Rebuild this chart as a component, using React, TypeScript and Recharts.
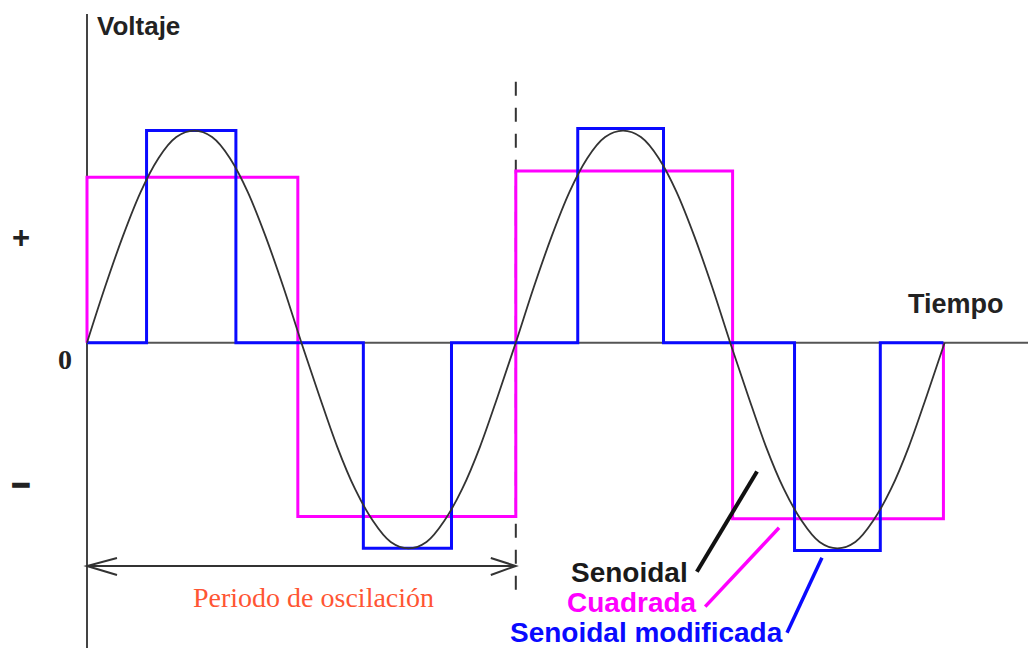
import { ComposedChart, Line, XAxis, YAxis, ReferenceLine } from "recharts"

// x in degrees of the wave (one period = 360), y in relative voltage
const senoidalX = [
  0, 15, 30, 45, 60, 75, 90, 105, 120, 135, 150, 165, 180, 195, 210, 225, 240, 255, 270, 285, 300, 315, 330, 345, 360,
  375, 390, 405, 420, 435, 450, 465, 480, 495, 510, 525, 540, 555, 570, 585, 600, 615, 630, 645, 660, 675, 690, 705, 720,
]
const senoidalY = [
  0, 0.26, 0.5, 0.71, 0.87, 0.97, 1, 0.97, 0.87, 0.71, 0.5, 0.26, 0, -0.25, -0.49, -0.69, -0.84, -0.94, -0.97, -0.94, -0.84, -0.69, -0.49, -0.25, 0,
  0.26, 0.5, 0.71, 0.87, 0.97, 1, 0.97, 0.87, 0.71, 0.5, 0.26, 0, -0.25, -0.49, -0.69, -0.84, -0.94, -0.97, -0.94, -0.84, -0.69, -0.49, -0.25, 0,
]

const cuadradaX = [0, 0, 177, 177, 360, 360, 542, 542, 719, 719]
const cuadradaY = [0, 0.78, 0.78, -0.82, -0.82, 0.81, 0.81, -0.83, -0.83, 0]

const modificadaX = [0, 50, 50, 125, 125, 232, 232, 306, 306, 412, 412, 484, 484, 594, 594, 666, 666, 719]
const modificadaY = [0, 0, 1.0, 1.0, 0, 0, -0.97, -0.97, 0, 0, 1.01, 1.01, 0, 0, -0.98, -0.98, 0, 0]

const senoidal = senoidalX.map((x, i) => ({ x, y: senoidalY[i] }))
const cuadrada = cuadradaX.map((x, i) => ({ x, y: cuadradaY[i] }))
const modificada = modificadaX.map((x, i) => ({ x, y: modificadaY[i] }))

const W = 1028
const H = 648

const sans = "'Liberation Sans', Arial, sans-serif"
const serif = "'Liberation Serif', 'Times New Roman', serif"

const doubleArrow = (p: any) => {
  const { x1, y1, x2, y2 } = p
  return (
    <g stroke="#333" strokeWidth={2} fill="none">
      <line x1={x1} y1={y1} x2={x2} y2={y2} />
      <polyline points={`${x1 + 30},${y1 - 8} ${x1},${y1} ${x1 + 30},${y1 + 9}`} />
      <polyline points={`${x2 - 25},${y2 - 8} ${x2},${y2} ${x2 - 25},${y2 + 9}`} />
    </g>
  )
}

export default function App() {
  return (
    <div style={{ position: "absolute", left: 0, top: 0, width: W, height: H, background: "#fff" }}>
      <ComposedChart width={W} height={H} margin={{ top: 14, right: 0, bottom: 0, left: 87 }}>
        <XAxis type="number" dataKey="x" domain={[0, 790]} hide />
        <YAxis type="number" dataKey="y" domain={[-1.44, 1.55]} hide />

        <ReferenceLine x={0} stroke="#444" strokeWidth={2} />
        <ReferenceLine y={0} stroke="#555" strokeWidth={2} />
        <ReferenceLine
          segment={[{ x: 360, y: 1.23 }, { x: 360, y: -1.17 }]}
          stroke="#333"
          strokeWidth={2}
          strokeDasharray="14 12"
        />
        <ReferenceLine segment={[{ x: 0, y: -1.053 }, { x: 360, y: -1.053 }]} shape={doubleArrow} />

        <Line data={cuadrada} dataKey="y" type="linear" stroke="#ff00ff" strokeWidth={3} dot={false} isAnimationActive={false} />
        <Line data={modificada} dataKey="y" type="linear" stroke="#0a0aff" strokeWidth={3} dot={false} isAnimationActive={false} />
        <Line data={senoidal} dataKey="y" type="monotone" stroke="#333" strokeWidth={1.8} dot={false} isAnimationActive={false} />

        <ReferenceLine segment={[{ x: 512, y: -1.08 }, { x: 562.5, y: -0.608 }]} stroke="#111" strokeWidth={4} />
        <ReferenceLine segment={[{ x: 519, y: -1.245 }, { x: 581, y: -0.873 }]} stroke="#ff00ff" strokeWidth={3.5} />
        <ReferenceLine segment={[{ x: 587.7, y: -1.368 }, { x: 617, y: -1.014 }]} stroke="#0a0aff" strokeWidth={3.5} />
      </ComposedChart>

      <svg width={W} height={H} style={{ position: "absolute", left: 0, top: 0, pointerEvents: "none" }}>
        <text x={97} y={35} fontFamily={sans} fontWeight="bold" fontSize={26} fill="#222">Voltaje</text>
        <text x={908} y={313} fontFamily={sans} fontWeight="bold" fontSize={27} fill="#222">Tiempo</text>
        <text x={21} y={248} textAnchor="middle" fontFamily={sans} fontWeight="bold" fontSize={31} fill="#222">+</text>
        <text x={65} y={369} textAnchor="middle" fontFamily={serif} fontWeight="bold" fontSize={28} fill="#222">0</text>
        <text x={21} y={496} textAnchor="middle" fontFamily={sans} fontWeight="bold" fontSize={32} fill="#222" stroke="#222" strokeWidth={1.5}>−</text>
        <text x={193} y={607} fontFamily={serif} fontSize={28} fill="#ff5533">Periodo de oscilación</text>
        <text x={571} y={582} fontFamily={sans} fontWeight="bold" fontSize={28} fill="#1a1a1a">Senoidal</text>
        <text x={567} y={612} fontFamily={sans} fontWeight="bold" fontSize={28} fill="#ff00ff">Cuadrada</text>
        <text x={510} y={642} fontFamily={sans} fontWeight="bold" fontSize={28} fill="#0a0aff">Senoidal modificada</text>
      </svg>
    </div>
  )
}
